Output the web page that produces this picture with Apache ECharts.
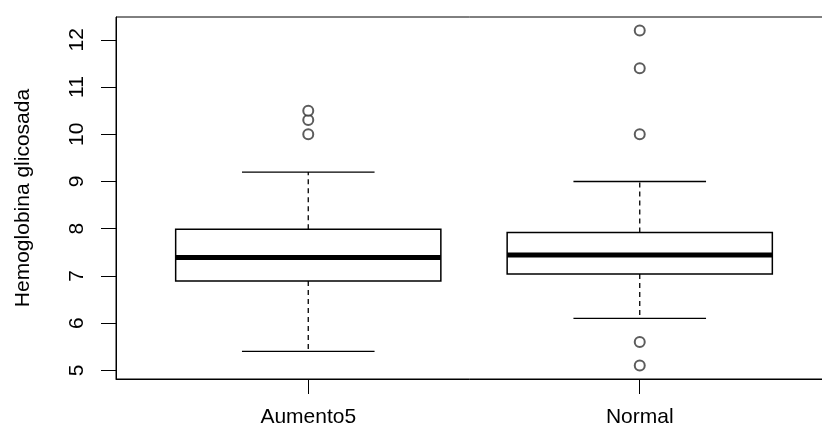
<!DOCTYPE html>
<html>
<head>
<meta charset="utf-8">
<script src="https://cdn.jsdelivr.net/npm/echarts@6/dist/echarts.min.js"></script>
<style>
html,body{margin:0;padding:0;background:#fff;}
#chart{width:822px;height:430px;}
</style>
</head>
<body>
<div id="chart"></div>
<script>
// ---- data ----
var categories = ['Aumento5', 'Normal'];
var lowerWhisker = [5.4, 6.1];
var q1 = [6.89, 7.04];
var median = [7.39, 7.44];
var q3 = [7.99, 7.92];
var upperWhisker = [9.2, 9.0];
var outliersAumento5 = [10.0, 10.3, 10.5];
var outliersNormal = [12.2, 11.4, 10.0, 5.6, 5.1];
var yTickValues = [5, 6, 7, 8, 9, 10, 11, 12];
var yTitle = 'Hemoglobina glicosada';

// ---- build ----
var boxData = categories.map(function (c, i) {
  return [i + 1, lowerWhisker[i], q1[i], median[i], q3[i], upperWhisker[i]];
});
var outlierData = [];
outliersAumento5.forEach(function (v) { outlierData.push([1, v]); });
outliersNormal.forEach(function (v) { outlierData.push([2, v]); });

var FONT = 'Liberation Sans';
var chart = echarts.init(document.getElementById('chart'), null, {renderer: 'canvas'});

chart.setOption({
  animation: false,
  backgroundColor: '#fff',
  grid: {left: 116, top: 17, width: 716, height: 362, outerBoundsMode: 'none', containLabel: false,
    show: true, borderColor: '#000', borderWidth: 1, backgroundColor: 'transparent'},
  xAxis: {
    type: 'value', min: 0.42, max: 2.58,
    axisLine: {show: true, lineStyle: {color: '#000', width: 1}},
    axisTick: {show: true, customValues: [1, 2], length: 15, lineStyle: {color: '#000', width: 1}},
    axisLabel: {show: true, customValues: [1, 2], margin: 28, color: '#000', fontFamily: FONT, fontSize: 21,
      formatter: function (v) { return categories[Math.round(v) - 1] || ''; }},
    splitLine: {show: false}
  },
  yAxis: {
    type: 'value', min: 4.816, max: 12.484,
    name: yTitle, nameLocation: 'middle', nameGap: 82, nameRotate: 90,
    nameTextStyle: {color: '#000', fontFamily: FONT, fontSize: 21},
    axisLine: {show: true, lineStyle: {color: '#000', width: 1}},
    axisTick: {show: true, customValues: yTickValues, length: 15, lineStyle: {color: '#000', width: 1}},
    axisLabel: {show: true, customValues: yTickValues, rotate: 90, margin: 28, color: '#000', fontFamily: FONT, fontSize: 21},
    splitLine: {show: false}
  },
  series: [
    {
      type: 'custom',
      data: boxData,
      encode: {x: 0, y: [1, 2, 3, 4, 5]},
      renderItem: function (params, api) {
        var x = api.value(0);
        var halfW = api.size([0.4, 0])[0];
        var capW = halfW / 2;
        var pLW = api.coord([x, api.value(1)]);
        var pQ1 = api.coord([x, api.value(2)]);
        var pMed = api.coord([x, api.value(3)]);
        var pQ3 = api.coord([x, api.value(4)]);
        var pUW = api.coord([x, api.value(5)]);
        var cx = pMed[0];
        var solid = {stroke: '#000', lineWidth: 1.3, fill: null};
        var dashed = {stroke: '#000', lineWidth: 1.3, lineDash: [5, 4], fill: null};
        return {
          type: 'group',
          children: [
            {type: 'line', shape: {x1: cx, y1: pQ3[1], x2: cx, y2: pUW[1]}, style: dashed},
            {type: 'line', shape: {x1: cx, y1: pQ1[1], x2: cx, y2: pLW[1]}, style: dashed},
            {type: 'line', shape: {x1: cx - capW, y1: pUW[1], x2: cx + capW, y2: pUW[1]}, style: solid},
            {type: 'line', shape: {x1: cx - capW, y1: pLW[1], x2: cx + capW, y2: pLW[1]}, style: solid},
            {type: 'rect', shape: {x: cx - halfW, y: pQ3[1], width: 2 * halfW, height: pQ1[1] - pQ3[1]},
              style: {stroke: '#000', lineWidth: 1.5, fill: '#fff'}},
            {type: 'line', shape: {x1: cx - halfW, y1: pMed[1], x2: cx + halfW, y2: pMed[1]},
              style: {stroke: '#000', lineWidth: 5, fill: null}}
          ]
        };
      },
      z: 2
    },
    {
      type: 'scatter',
      data: outlierData,
      symbol: 'emptyCircle',
      symbolSize: 10,
      itemStyle: {color: '#333', borderColor: '#333', borderWidth: 1.3},
      z: 3
    }
  ]
});
</script>
</body>
</html>
